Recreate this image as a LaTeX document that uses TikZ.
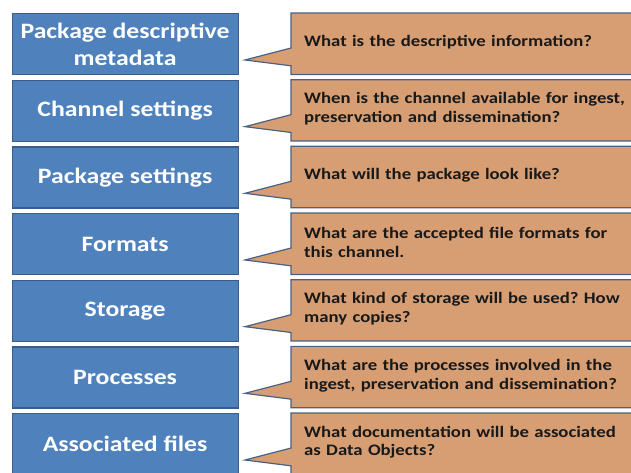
\documentclass[tikz,border=0pt]{standalone}
\usepackage{fontspec}
\setmainfont[FakeStretch=1.17]{Carlito}
\usetikzlibrary{calc,backgrounds}
\frenchspacing
\definecolor{boxblue}{RGB}{79,129,189}
\definecolor{boxblueedge}{RGB}{56,93,138}
\definecolor{tan}{RGB}{215,158,115}
\definecolor{tanedge}{RGB}{74,97,132}
\begin{document}
\begin{tikzpicture}[x=1pt,y=-1pt,
  topic/.style={draw=boxblueedge,line width=1.2pt,fill=boxblue,text=white,
    font=\fontsize{22}{27}\selectfont\bfseries,align=center,
    minimum width=226pt,minimum height=61pt,inner sep=0pt,anchor=north west},
  question/.style={font=\fontsize{16}{18.5}\selectfont\bfseries,text=black!90,
    align=left,text width=323pt,inner xsep=13pt,inner ysep=0pt,
    minimum height=61pt,anchor=north west},
  bubble/.style={draw=tanedge,line width=1.2pt,fill=tan}]
\useasboundingbox (0,0) rectangle (631,472);
\clip (0,0) rectangle (631,472);
\def\rowlist{%
  1/{Package descriptive\\metadata}/{What is the descriptive information?},
  2/{Channel settings}/{When is the channel available for ingest,\\preservation and dissemination?},
  3/{Package settings}/{What will the package look like?},
  4/{Formats}/{What are the accepted file formats for\\this channel.},
  5/{Storage}/{What kind of storage will be used? How\\many copies?},
  6/{Processes}/{What are the processes involved in the\\ingest, preservation and dissemination?},
  7/{Associated files}/{What documentation will be associated\\as Data Objects?}}
\foreach \i/\topic/\quest in \rowlist {
  \pgfmathsetmacro{\t}{13+66.67*(\i-1)}
  \node[topic] (t\i) at (11.5,\t) {\topic};
  \node[question] (q\i) at (291,{\t-1.5}) {\quest};
  \coordinate (tip\i) at (245,{\t+0.77*61});
  \begin{scope}[on background layer]
  \draw[bubble] ($(q\i.north west)+(0,1.5)$) -- ($(q\i.north east)+(0,1.5)$)
    -- ($(q\i.south east)+(0,1.5)$) -- ($(q\i.south west)+(0,1.5)$)
    -- ($(q\i.north west)!0.86!(q\i.south west)+(0,1.5)$)
    -- (tip\i) -- ($(q\i.north west)!0.57!(q\i.south west)+(0,1.5)$) -- cycle;
  \end{scope}
}
\end{tikzpicture}
\end{document}
